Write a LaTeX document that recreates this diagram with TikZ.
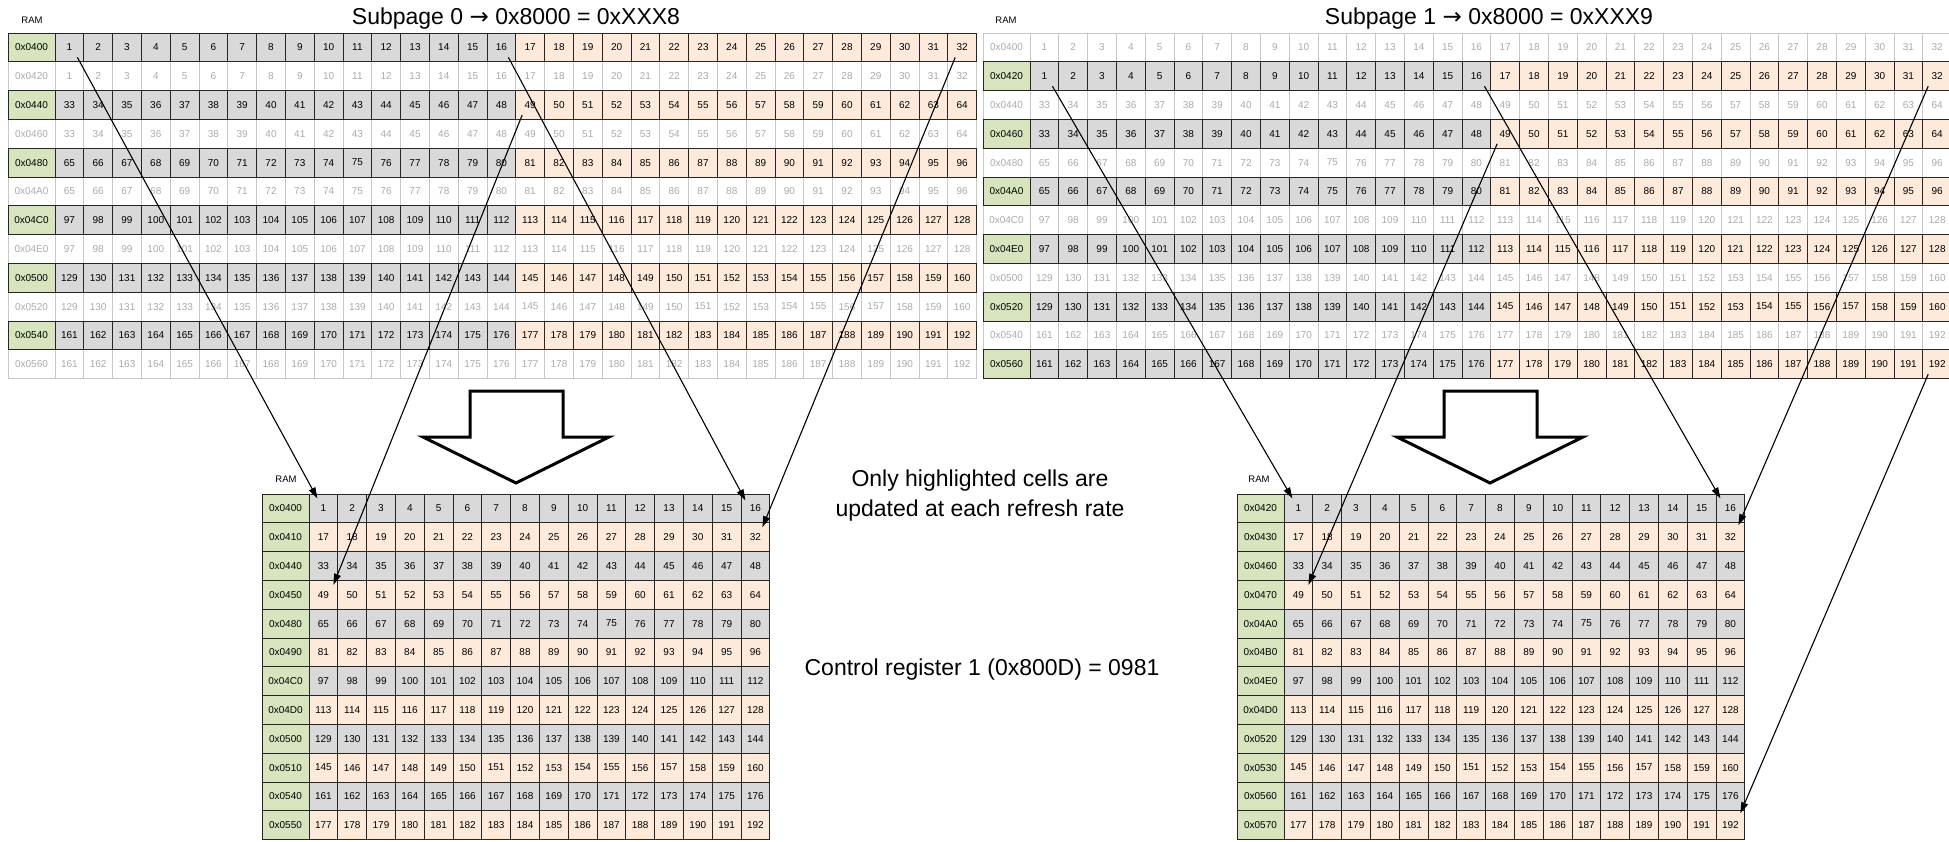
\documentclass[tikz,border=0pt]{standalone}
\usepackage{fontspec}
\setmainfont{Liberation Sans}
\newfontfamily\symfont{DejaVu Sans}
\usetikzlibrary{arrows.meta,calc}

\definecolor{addrgreen}{RGB}{215,228,189}
\definecolor{cellgray}{RGB}{217,217,217}
\definecolor{cellpeach}{RGB}{253,234,218}
\definecolor{fadeline}{RGB}{200,200,200}
\definecolor{fadetext}{RGB}{170,170,170}

\tikzset{
  cell/.style={draw=black!85, line width=0.9pt, minimum width=28.8pt, minimum height=28.8pt, inner sep=0pt, font=\fontsize{10}{12}\selectfont},
  addr/.style={cell, minimum width=47pt, fill=addrgreen},
  fadecell/.style={cell, draw=fadeline, text=fadetext, line width=0.8pt},
  fadeaddr/.style={fadecell, minimum width=47pt},
  link/.style={line width=1.1pt, -{Triangle[length=11pt,width=7pt]}},
  bigarrow/.style={line width=3pt, line join=miter},
  title/.style={font=\fontsize{23}{28}\selectfont, anchor=base},
  ramlabel/.style={font=\fontsize{9.5}{11}\selectfont},
}

\begin{document}
\begin{tikzpicture}[x=1pt,y=1pt,yscale=-1]
\useasboundingbox (0,0) rectangle (1949,842);

% Top left: RAM as seen from subpage 0
\foreach \r/\a in {1/0420,3/0460,5/04A0,7/04E0,9/0520,11/0560} {
  \pgfmathtruncatemacro{\base}{32*int(\r/2)}
  \node[fadeaddr] (A-\r-0) at (31.5,47.4+28.8*\r) {0x\a};
  \foreach \c in {1,...,32} {
    \pgfmathtruncatemacro{\cellno}{\base+\c}
    \node[fadecell] (A-\r-\c) at (40.6+28.8*\c,47.4+28.8*\r) {\cellno};
  }
}
\foreach \r/\a in {0/0400,2/0440,4/0480,6/04C0,8/0500,10/0540} {
  \pgfmathtruncatemacro{\base}{32*int(\r/2)}
  \node[addr] (A-\r-0) at (31.5,47.4+28.8*\r) {0x\a};
  \foreach \c in {1,...,32} {
    \pgfmathtruncatemacro{\cellno}{\base+\c}
    \ifnum\c<17 \def\fc{cellgray}\else\def\fc{cellpeach}\fi
    \node[cell, fill=\fc] (A-\r-\c) at (40.6+28.8*\c,47.4+28.8*\r) {\cellno};
  }
}

% Top right: RAM as seen from subpage 1
\foreach \r/\a in {0/0400,2/0440,4/0480,6/04C0,8/0500,10/0540} {
  \pgfmathtruncatemacro{\base}{32*int(\r/2)}
  \node[fadeaddr] (B-\r-0) at (1006.5,47.4+28.8*\r) {0x\a};
  \foreach \c in {1,...,32} {
    \pgfmathtruncatemacro{\cellno}{\base+\c}
    \node[fadecell] (B-\r-\c) at (1015.6+28.8*\c,47.4+28.8*\r) {\cellno};
  }
}
\foreach \r/\a in {1/0420,3/0460,5/04A0,7/04E0,9/0520,11/0560} {
  \pgfmathtruncatemacro{\base}{32*int(\r/2)}
  \node[addr] (B-\r-0) at (1006.5,47.4+28.8*\r) {0x\a};
  \foreach \c in {1,...,32} {
    \pgfmathtruncatemacro{\cellno}{\base+\c}
    \ifnum\c<17 \def\fc{cellgray}\else\def\fc{cellpeach}\fi
    \node[cell, fill=\fc] (B-\r-\c) at (1015.6+28.8*\c,47.4+28.8*\r) {\cellno};
  }
}

% Bottom left: refreshed cells, subpage 0
\foreach \r/\a in {0/0400,1/0410,2/0440,3/0450,4/0480,5/0490,6/04C0,7/04D0,8/0500,9/0510,10/0540,11/0550} {
  \ifodd\r \def\fc{cellpeach}\else\def\fc{cellgray}\fi
  \node[addr] (C-\r-0) at (285.5,508.4+28.8*\r) {0x\a};
  \foreach \c in {1,...,16} {
    \pgfmathtruncatemacro{\cellno}{16*\r+\c}
    \node[cell, fill=\fc] (C-\r-\c) at (294.6+28.8*\c,508.4+28.8*\r) {\cellno};
  }
}

% Bottom right: refreshed cells, subpage 1
\foreach \r/\a in {0/0420,1/0430,2/0460,3/0470,4/04A0,5/04B0,6/04E0,7/04D0,8/0520,9/0530,10/0560,11/0570} {
  \ifodd\r \def\fc{cellpeach}\else\def\fc{cellgray}\fi
  \node[addr] (D-\r-0) at (1260.5,508.4+28.8*\r) {0x\a};
  \foreach \c in {1,...,16} {
    \pgfmathtruncatemacro{\cellno}{16*\r+\c}
    \node[cell, fill=\fc] (D-\r-\c) at (1269.6+28.8*\c,508.4+28.8*\r) {\cellno};
  }
}

% RAM labels
\node[ramlabel] (ramA) at (32,20) {RAM};
\node[ramlabel] (ramB) at (1006,20) {RAM};
\node[ramlabel] (ramC) at (286,479) {RAM};
\node[ramlabel] (ramD) at (1259,479) {RAM};

% Titles
\node[title] (sub0) at (516,25) {Subpage 0 {\symfont →} 0x8000 = 0xXXX8};
\node[title] (sub1) at (1489,25) {Subpage 1 {\symfont →} 0x8000 = 0xXXX9};

% Notes
\node[font=\fontsize{23}{30}\selectfont, align=center] (note) at (980,496) {Only highlighted cells are\\updated at each refresh rate};
\node[title] (ctrl) at (982,675) {Control register 1 (0x800D) = 0981};

% Big arrows
\draw[bigarrow] (470,391) -- (563,391) -- (563,437) -- (609,437) -- (516,483) -- (423,437) -- (470,437) -- cycle;
\draw[bigarrow] (1444,391) -- (1537,391) -- (1537,437) -- (1583,437) -- (1490,483) -- (1397,437) -- (1444,437) -- cycle;

% Links subpage 0
\draw[link] ($(A-0-1.center)+(8,10)$) -- ($(C-0-1.center)+(-6,-10)$);
\draw[link] ($(A-0-16.center)+(7,10)$) -- ($(C-0-16.center)+(-10,-8)$);
\draw[link] ($(A-2-17.center)+(-8,10)$) -- ($(C-3-1.center)+(10,-10)$);
\draw[link] ($(A-0-32.center)+(-7,10)$) -- ($(C-1-16.center)+(7,-10)$);

% Links subpage 1
\draw[link] ($(B-1-1.center)+(8,10)$) -- ($(D-0-1.center)+(-6,-10)$);
\draw[link] ($(B-1-16.center)+(8,10)$) -- ($(D-0-16.center)+(-10,-10)$);
\draw[link] ($(B-3-17.center)+(-8,10)$) -- ($(D-3-1.center)+(10,-10)$);
\draw[link] ($(B-1-32.center)+(-9,10)$) -- ($(D-1-16.center)+(8,-12)$);
\draw[link] ($(B-11-32.center)+(-9,10)$) -- ($(D-11-16.center)+(10,-12)$);

\end{tikzpicture}
\end{document}
